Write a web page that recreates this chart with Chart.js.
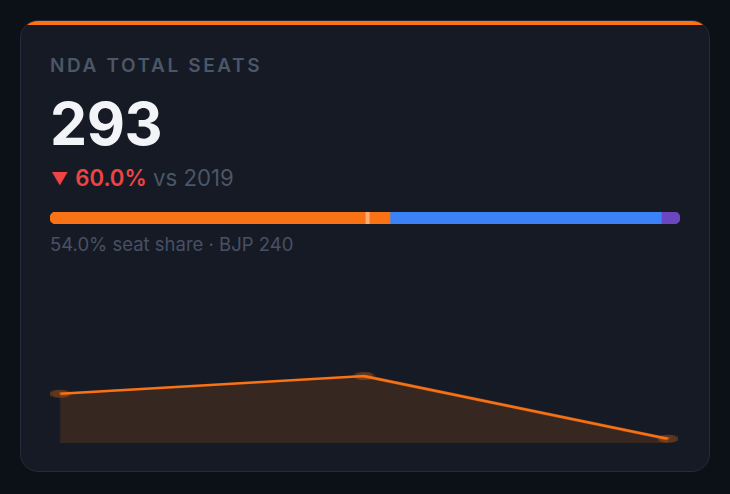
<!DOCTYPE html>
<html><head><meta charset="utf-8">
<script src="https://cdn.jsdelivr.net/npm/chart.js@4"></script>
<style>
html,body{margin:0;padding:0;background:#0c1017;width:730px;height:494px;overflow:hidden;font-family:Inter,"Noto Sans",sans-serif;}
.card{position:absolute;left:20px;top:20px;width:688px;height:450px;background:#161a24;border:1px solid #252b3b;border-radius:18px;overflow:hidden;box-sizing:content-box;}
.card:before{content:"";position:absolute;left:0;top:0;right:0;height:4px;background:#f97316;}
.t{position:absolute;white-space:nowrap;line-height:1;}
#title{left:29px;top:35px;font-size:19px;font-weight:600;letter-spacing:2.6px;color:#4b5669;}
#value{left:29px;top:73px;font-size:59px;font-weight:700;color:#f3f4f7;letter-spacing:-0.5px;}
#delta{left:30px;top:146px;font-size:22.2px;font-weight:400;color:#4b5669;}
#delta .tri{color:#ef4444;font-size:17px;display:inline-block;vertical-align:1px;margin-right:7px;}
#delta .dn{color:#ef4444;font-weight:600;}
#sub{left:29px;top:214px;font-size:18.5px;font-weight:400;color:#465165;}
#barWrap{position:absolute;left:29px;top:191px;width:630px;height:12px;}
#spark{position:absolute;left:29px;top:349px;}
</style>
</head><body>
<div class="card">
  <div class="t" id="title">NDA TOTAL SEATS</div>
  <div class="t" id="value">293</div>
  <div class="t" id="delta"><span class="tri">▼</span><span class="dn">60.0%</span> vs 2019</div>
  <div id="barWrap"><canvas id="bar" width="630" height="12"></canvas></div>
  <div class="t" id="sub">54.0% seat share · BJP 240</div>
  <canvas id="spark" width="251" height="77" style="width:628px;height:77px"></canvas>
</div>
<script>
// Seat share bar
const shareGroups = ['NDA', 'INDIA', 'Others'];
const shareSeats = [293, 234, 16];
const totalSeats = 543;
const majorityMark = 272;
// Trend sparkline
const trendYears = ['2014', '2019', '2024'];
const trendSeats = [336, 353, 293];

const shareColors = ['#f97316', '#3b82f6', '#6b46c1'];

const majorityPlugin = {
  id: 'majority',
  afterDatasetsDraw(chart) {
    const x = chart.scales.x.getPixelForValue(majorityMark);
    const a = chart.chartArea;
    const ctx = chart.ctx;
    ctx.save();
    ctx.fillStyle = '#fdae74';
    ctx.fillRect(x, a.top, 4, a.bottom - a.top);
    ctx.restore();
  }
};

new Chart(document.getElementById('bar'), {
  type: 'bar',
  data: {
    labels: ['seats'],
    datasets: shareGroups.map((g, i) => ({
      label: g,
      data: [shareSeats[i]],
      backgroundColor: shareColors[i],
      borderWidth: 0,
      borderSkipped: false,
      borderRadius: i === 0 ? {topLeft: 6, bottomLeft: 6, topRight: 0, bottomRight: 0}
                  : (i === shareGroups.length - 1 ? {topLeft: 0, bottomLeft: 0, topRight: 6, bottomRight: 6} : 0),
      barPercentage: 1,
      categoryPercentage: 1
    }))
  },
  options: {
    indexAxis: 'y',
    responsive: false,
    animation: false,
    devicePixelRatio: 1,
    layout: {padding: 0},
    plugins: {legend: {display: false}, tooltip: {enabled: false}},
    scales: {
      x: {stacked: true, display: false, min: 0, max: totalSeats},
      y: {stacked: true, display: false}
    }
  },
  plugins: [majorityPlugin]
});

new Chart(document.getElementById('spark'), {
  type: 'line',
  data: {
    labels: trendYears,
    datasets: [{
      data: trendSeats,
      borderColor: '#f97316',
      borderWidth: 2.6,
      backgroundColor: 'rgba(249,115,22,0.15)',
      fill: 'start',
      tension: 0,
      pointRadius: 4,
      pointBorderWidth: 0,
      pointBackgroundColor: 'rgba(249,115,22,0.32)',
      clip: false
    }]
  },
  options: {
    responsive: false,
    animation: false,
    devicePixelRatio: 1,
    layout: {padding: {top: 6, bottom: 4, left: 4, right: 4}},
    plugins: {legend: {display: false}, tooltip: {enabled: false}},
    scales: {
      x: {display: false},
      y: {display: false, min: 289, max: 353}
    }
  }
});
</script>
</body></html>
